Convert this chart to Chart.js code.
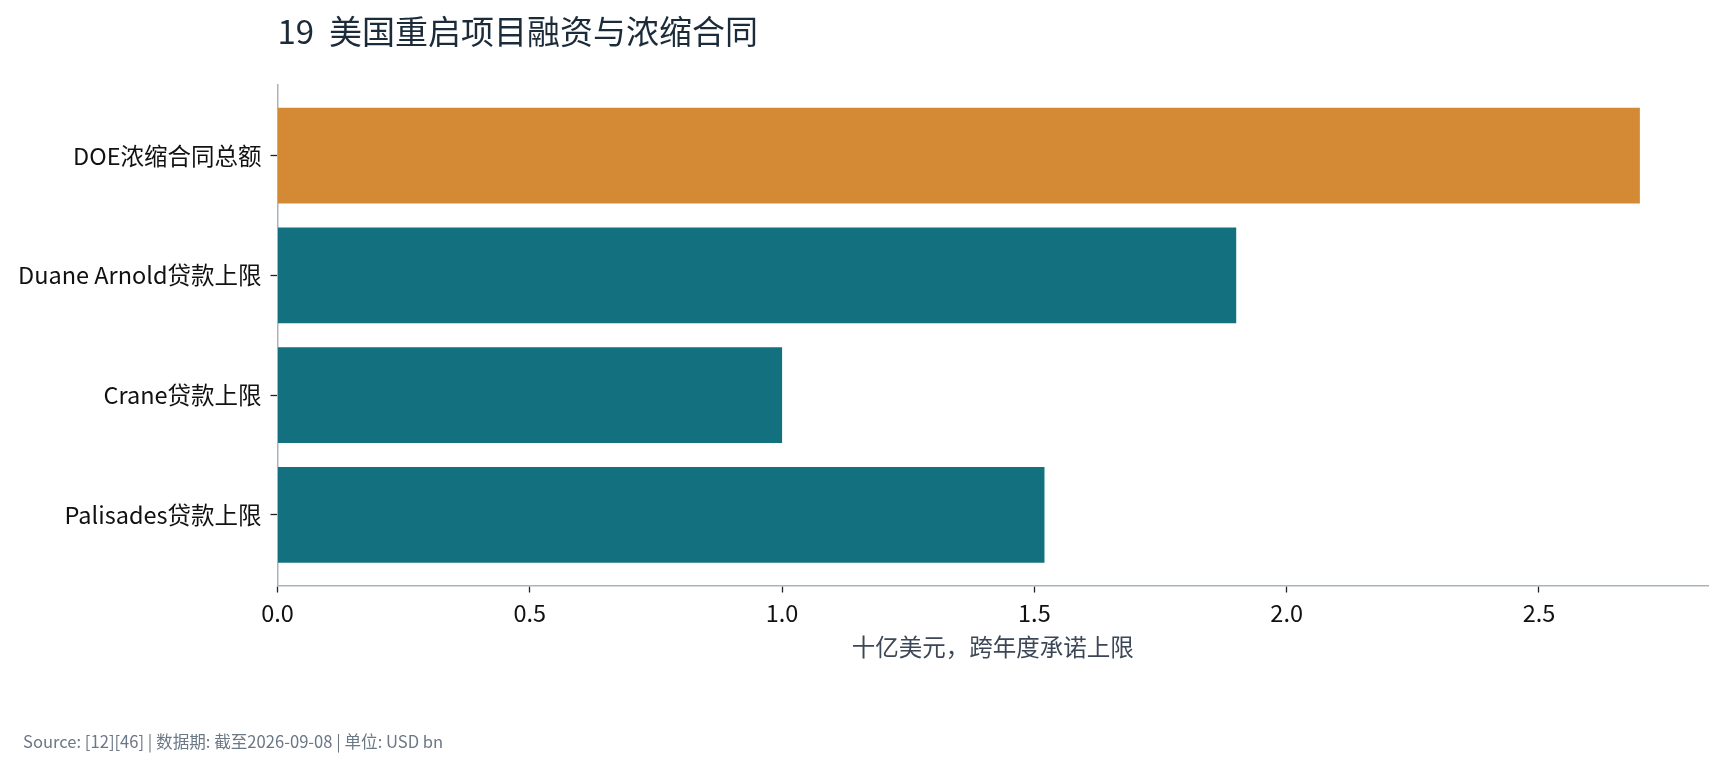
<!DOCTYPE html>
<html>
<head>
<meta charset="utf-8">
<title>19 美国重启项目融资与浓缩合同</title>
<script src="https://cdn.jsdelivr.net/npm/chart.js@4.4.1/dist/chart.umd.min.js"></script>
<style>
  html, body { margin: 0; padding: 0; background: #fff; }
  #wrap { width: 1726px; height: 768px; position: relative; }
</style>
</head>
<body>
<div id="wrap"><canvas id="restartChart"></canvas></div>
<script>
// chart data
var categories = ['DOE浓缩合同总额', 'Duane Arnold贷款上限', 'Crane贷款上限', 'Palisades贷款上限'];
var values     = [2.7, 1.9, 1.0, 1.52];
var barColors  = ['#D48A34', '#13707F', '#13707F', '#13707F'];
var xTicks     = [0, 0.5, 1.0, 1.5, 2.0, 2.5];

var titleText  = '19  美国重启项目融资与浓缩合同';
var xTitleText = '十亿美元，跨年度承诺上限';
var sourceText = 'Source: [12][46] | 数据期: 截至2026-09-08 | 单位: USD bn';

var FONT = "'Noto Sans CJK SC', 'Noto Sans', sans-serif";

var points = values.map(function (v, i) { return { x: v, y: i }; });

// source line under the chart, bottom-left
var sourceNote = {
  id: 'sourceNote',
  afterDraw: function (chart) {
    var c = chart.ctx;
    c.save();
    c.font = '16.6px ' + FONT;
    c.fillStyle = '#6B7886';
    c.textAlign = 'left';
    c.textBaseline = 'middle';
    c.fillText(sourceText, 23, 741.5);
    c.restore();
  }
};

var ctx = document.getElementById('restartChart').getContext('2d');

new Chart(ctx, {
  type: 'bar',
  data: {
    datasets: [{
      data: points,
      backgroundColor: barColors,
      borderWidth: 0,
      barPercentage: 0.8,
      categoryPercentage: 1.0
    }]
  },
  plugins: [sourceNote],
  options: {
    indexAxis: 'y',
    responsive: true,
    maintainAspectRatio: false,
    animation: false,
    events: [],
    layout: { padding: { left: 0, right: 18, top: 0, bottom: 102.5 } },
    plugins: {
      legend: { display: false },
      tooltip: { enabled: false },
      title: {
        display: true,
        text: titleText,
        align: 'start',
        fullSize: false,
        color: '#1C2B3A',
        font: { family: FONT, size: 33, weight: 'normal' },
        padding: { top: 12, bottom: 33.4 }
      }
    },
    scales: {
      x: {
        type: 'linear',
        min: 0,
        max: 2.835,
        afterBuildTicks: function (scale) {
          scale.ticks = xTicks.map(function (v) { return { value: v }; });
        },
        afterFit: function (scale) { scale.height = 80; },
        ticks: {
          color: '#111',
          padding: 6,
          font: { family: FONT, size: 23.5 },
          callback: function (v) { return Number(v).toFixed(1); }
        },
        grid: {
          drawOnChartArea: false,
          drawTicks: true,
          tickLength: 7,
          tickWidth: 1.3,
          tickColor: '#222'
        },
        border: { color: '#A9B3BD', width: 1.5 },
        title: {
          display: true,
          text: xTitleText,
          color: '#3B4656',
          font: { family: FONT, size: 23.5 },
          padding: { top: 0, bottom: 4 }
        }
      },
      y: {
        type: 'linear',
        min: -0.59,
        max: 3.59,
        reverse: true,
        offset: false,
        afterBuildTicks: function (scale) {
          scale.ticks = categories.map(function (c, i) { return { value: i }; });
        },
        afterFit: function (scale) { scale.width = 277.5; },
        ticks: {
          color: '#111',
          padding: 9,
          autoSkip: false,
          font: { family: FONT, size: 23.5 },
          callback: function (v) { return categories[v]; }
        },
        grid: {
          offset: false,
          drawOnChartArea: false,
          drawTicks: true,
          tickLength: 7,
          tickWidth: 1.3,
          tickColor: '#222'
        },
        border: { color: '#A9B3BD', width: 1.5 }
      }
    }
  }
});
</script>
</body>
</html>
